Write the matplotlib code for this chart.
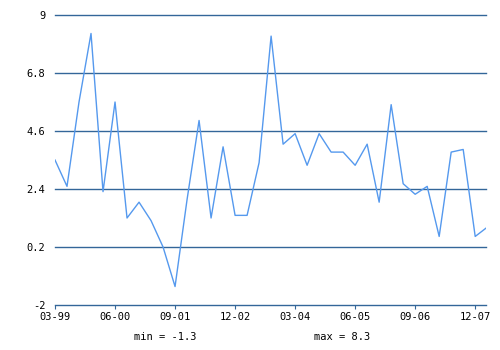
import matplotlib
matplotlib.use("Agg")
import matplotlib.pyplot as plt

# quarterly series, 03-99 .. 03-08
values = [3.5, 2.5, 5.7, 8.3, 2.3, 5.7, 1.3, 1.9, 1.2, 0.2, -1.3, 2.0,
          5.0, 1.3, 4.0, 1.4, 1.4, 3.4, 8.2, 4.1, 4.5, 3.3, 4.5, 3.8,
          3.8, 3.3, 4.1, 1.9, 5.6, 2.6, 2.2, 2.5, 0.6, 3.8, 3.9, 0.6, 0.95]
tick_labels = ["03-99", "06-00", "09-01", "12-02", "03-04", "06-05", "09-06", "12-07"]
y_ticks = [-2, 0.2, 2.4, 4.6, 6.8, 9]
y_tick_labels = ["-2", "0.2", "2.4", "4.6", "6.8", "9"]

font = "DejaVu Sans Mono"
grid_color = "#336699"
line_color = "#5599ee"

fig = plt.figure(figsize=(5, 3.5), dpi=100)
ax = fig.add_axes([0.11, 0.1286, 0.862, 0.8285])

x = list(range(len(values)))
ax.plot(x, values, color=line_color, linewidth=1.0, zorder=3)

ax.set_xlim(0, 35.9)
ax.set_ylim(-2, 9)

ax.set_yticks(y_ticks)
ax.set_yticklabels(y_tick_labels, fontname=font, fontsize=7.5)
for yv in y_ticks:
    ax.axhline(yv, color=grid_color, linewidth=1.0, zorder=1, clip_on=False)

ax.set_xticks(range(0, len(values), 5))
ax.set_xticklabels(tick_labels, fontname=font, fontsize=7.5)
ax.tick_params(axis="x", length=3, color=grid_color, pad=2)
ax.tick_params(axis="y", length=0, pad=7)

for s in ["top", "right", "left", "bottom"]:
    ax.spines[s].set_visible(False)

fig.text(165 / 500, 1 - 337 / 350, "min = %.1f" % min(values), fontname=font,
         fontsize=7.5, ha="center", va="center")
fig.text(342 / 500, 1 - 337 / 350, "max = %.1f" % max(values), fontname=font,
         fontsize=7.5, ha="center", va="center")

fig.savefig("out.png", dpi=100)
